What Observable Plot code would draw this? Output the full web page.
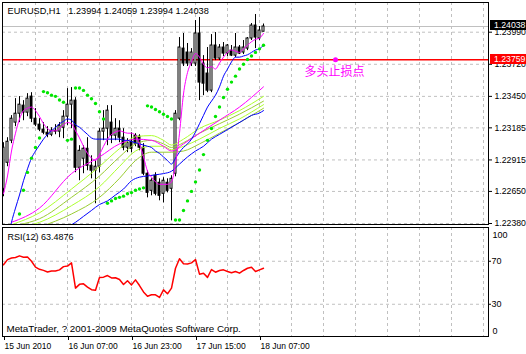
<!DOCTYPE html>
<html><head><meta charset="utf-8">
<script src="https://cdn.jsdelivr.net/npm/d3@7"></script>
<script src="https://cdn.jsdelivr.net/npm/@observablehq/plot@0.6"></script>
<style>
html,body{margin:0;padding:0;background:#fff;}
#wrap{position:relative;width:526px;height:354px;overflow:hidden;background:#fff;}
#wrap svg{position:absolute;left:0;overflow:visible;}
.plabel{position:absolute;left:490px;width:36px;height:10px;color:#fff;font:8.7px "Liberation Sans",Arial,sans-serif;line-height:10px;padding-left:4px;box-sizing:border-box;white-space:pre;overflow:hidden;}
</style></head><body><div id="wrap"></div>
<script>
// ---- data (H1 bars, index 0 = 15 Jun 2010 15:00) ----
const open = [1.22672,1.22891,1.23077,1.23229,1.23304,1.23372,1.23313,1.23448,1.23262,1.23212,
1.23170,1.23144,1.23127,1.23161,1.23153,1.23186,1.23279,1.23380,1.23414,1.22849,
1.22925,1.23009,1.22866,1.22824,1.22858,1.23153,1.23178,1.23229,1.23119,1.23178,
1.23102,1.23018,1.23068,1.23119,1.23111,1.23018,1.22799,1.22655,1.22782,1.22723,
1.22630,1.22723,1.22672,1.22799,1.23262,1.23852,1.23819,1.23726,1.23726,1.23979,
1.23726,1.23642,1.23498,1.23878,1.23768,1.23861,1.23810,1.23835,1.23793,1.23861,
1.23819,1.23852,1.23937,1.24046,1.23937,1.23994];
const high = [1.23060,1.23102,1.23288,1.23431,1.23448,1.23414,1.23473,1.23481,1.23347,1.23262,
1.23229,1.23195,1.23186,1.23212,1.23229,1.23330,1.23515,1.23524,1.23439,1.23035,
1.23035,1.23102,1.22950,1.22908,1.23178,1.23330,1.23372,1.23372,1.23262,1.23245,
1.23178,1.23094,1.23144,1.23136,1.23127,1.23052,1.22824,1.22756,1.22807,1.22756,
1.22765,1.22756,1.22782,1.23330,1.23945,1.23979,1.23895,1.23852,1.24088,1.24114,
1.23793,1.23861,1.23970,1.23987,1.23886,1.23903,1.23886,1.23878,1.23979,1.23878,
1.23920,1.23945,1.24063,1.24139,1.24038,1.24059];
const low = [1.22605,1.22858,1.23052,1.23195,1.23229,1.23245,1.23279,1.23229,1.23195,1.23153,
1.23127,1.23102,1.23111,1.23127,1.23102,1.23094,1.23203,1.23178,1.22807,1.22740,
1.22799,1.22824,1.22756,1.22546,1.22807,1.23077,1.23035,1.23052,1.23077,1.23060,
1.22992,1.22976,1.22976,1.23026,1.22992,1.22782,1.22596,1.22613,1.22613,1.22571,
1.22554,1.22638,1.22402,1.22773,1.23245,1.23701,1.23701,1.23701,1.23701,1.23414,
1.23456,1.23481,1.23481,1.23751,1.23751,1.23785,1.23785,1.23785,1.23776,1.23802,
1.23802,1.23835,1.23920,1.23852,1.23920,1.23994];
const close = [1.23018,1.23068,1.23262,1.23304,1.23380,1.23313,1.23431,1.23262,1.23212,1.23170,
1.23144,1.23127,1.23161,1.23153,1.23203,1.23279,1.23380,1.23414,1.22849,1.22992,
1.23009,1.22866,1.22824,1.22858,1.23153,1.23178,1.23330,1.23119,1.23178,1.23102,
1.23018,1.23060,1.23009,1.23052,1.23018,1.22799,1.22638,1.22740,1.22630,1.22613,
1.22740,1.22655,1.22756,1.23304,1.23861,1.23726,1.23726,1.23819,1.23979,1.23566,
1.23557,1.23498,1.23878,1.23768,1.23861,1.23810,1.23878,1.23793,1.23861,1.23810,
1.23861,1.23937,1.24046,1.23945,1.24004,1.24038];

const maFast = [1.2263,1.2278,1.2299,1.2314,1.2326,1.2333,1.2335,1.2336,1.2333,1.2328,
1.2322,1.2318,1.2316,1.2316,1.2318,1.2321,1.2323,1.2322,1.2316,1.2310,
1.2303,1.2297,1.2293,1.2291,1.2296,1.2303,1.2309,1.2313,1.2315,1.2316,
1.2315,1.2314,1.2314,1.2312,1.2305,1.2294,1.2282,1.2277,1.2273,1.2271,
1.2271,1.2271,1.2273,1.2288,1.2314,1.2347,1.2365,1.2374,1.2381,1.2378,
1.2372,1.2369,1.2370,1.2368,1.2373,1.2378,1.2382,1.2384,1.2383,1.2382,
1.2385,1.2388,1.2391,1.2393,1.2394,1.2398];
const maBlue = [null,1.2223,1.2239,1.2251,1.2262,1.2274,1.2284,1.2293,1.2299,1.2304,
1.2309,1.2313,1.2316,1.2319,1.2322,1.2324,1.2326,1.2325,1.2321,1.2319,
1.2316,1.2313,1.2310,1.2309,1.2309,1.2309,1.2309,1.2309,1.2309,1.2309,
1.2308,1.2308,1.2307,1.2306,1.2305,1.2304,1.2303,1.2302,1.2299,1.2297,
1.2294,1.2291,1.2288,1.2293,1.2298,1.2302,1.2305,1.2309,1.2315,1.2322,
1.2329,1.2336,1.2341,1.2346,1.2353,1.2362,1.2368,1.2374,1.2378,1.2378,
1.2379,1.2380,1.2382,1.2384,1.2385,1.2388];
const blueSlowIdx = [16,18,20,22,24,26,28,30,32,34,36,38,40,42,44,46,48,50,52,54,56,58,60,62,64,65];
const blueSlow = [1.2235,1.2239,1.2244,1.2249,1.2254,1.2257,1.2262,1.2267,1.2274,1.2277,1.2278,1.2279,1.2280,1.2282,1.2288,1.2294,1.2299,1.2303,1.2309,1.2313,1.2317,1.2321,1.2325,1.2329,1.2331,1.2333];
const slowIdx = [2,9,17,24,29,33,37,40,42,45,49,54,59,65];
const maSlowMagenta = [1.2239,1.2251,1.2280,1.2294,1.2305,1.2309,1.2308,1.2303,1.2299,1.2305,1.2314,1.2325,1.2336,1.2353];
const g1Idx = [2,9,17,24,29,33,37,40,42,45,49,54,59,65];
const maG1 = [1.2237,1.2247,1.2267,1.2286,1.2301,1.2311,1.2312,1.2308,1.2304,1.2309,1.2318,1.2325,1.2333,1.2345];
const g2Idx = [4,9,17,24,29,33,37,40,42,45,49,54,59,65];
const maG2 = [1.2237,1.2242,1.2260,1.2278,1.2294,1.2305,1.2308,1.2305,1.2302,1.2306,1.2314,1.2322,1.2330,1.2341];
const g3Idx = [6,9,17,24,29,33,37,40,42,45,49,54,59,65];
const maG3 = [1.2236,1.2239,1.2253,1.2269,1.2286,1.2299,1.2303,1.2303,1.2300,1.2303,1.2309,1.2318,1.2326,1.2338];
const g4Idx = [9,17,24,29,33,37,40,42,45,49,54,59,65];
const maG4 = [1.2235,1.2246,1.2260,1.2276,1.2291,1.2298,1.2298,1.2298,1.2299,1.2305,1.2314,1.2323,1.2335];

const sar = [null,null,null,null,1.2246,1.2266,1.2281,1.2293,1.2302,1.2310,
1.2349,1.2348,1.2346,1.2345,1.2342,1.2340,1.2308,1.2309,1.2352,1.2352,
1.2350,1.2346,1.2343,1.2339,1.2332,1.2326,1.2255,1.2257,1.2259,1.2260,
1.2261,1.2263,1.2264,1.2266,1.2267,1.2268,1.2337,1.2336,1.2334,1.2332,
1.2330,1.2328,1.2326,1.2241,1.2241,1.2249,1.2257,1.2265,1.2273,1.2283,
1.2296,1.2308,1.2318,1.2328,1.2336,1.2344,1.2351,1.2357,1.2362,1.2368,
1.2372,1.2376,1.2379,1.2382,1.2385,1.2388];

const rsi = [66.7,71.5,73,73.5,75,73.8,74,70,64.5,62.5,
61.5,60,61,61,62,65,65.5,68.5,45,48.5,
49,46,43.5,43,54.9,55.2,56.7,54.5,54.6,53,
48.4,51.8,48,52.7,47.4,41.5,37.5,38.8,38.8,36.3,
43.4,39.7,45,63.5,72.3,67.6,67.5,68.5,71.6,58,
58.9,55,62.3,59.8,61.4,62,60.5,59.3,60.5,58.9,
61.4,63.5,64.5,60.5,62,63.49];

const priceTicks = [1.23990,1.23720,1.23450,1.23185,1.22915,1.22650,1.22380];
const rsiLevels = [30,70];
const gridBars = [8,16,24,32,40,48,56,64,72,80,88,96,104,112,120];
const timeTicks = [0,16,32,48,64];
const timeLabels = ["15 Jun 2010","16 Jun 07:00","16 Jun 23:00","17 Jun 15:00","18 Jun 07:00"];
const lastPrice = 1.24038;
const stopPrice = 1.23759;
const stopIdx = 83;
const stopText = "多头止损点";
const titleText = "EURUSD,H1   1.23994 1.24059 1.23994 1.24038";
const rsiText = "RSI(12) 63.4876";
const captionText = "MetaTrader, ? 2001-2009 MetaQuotes Software Corp.";

// ---- build ----
const bars = open.map((o,i)=>({i,o,h:high[i],l:low[i],c:close[i]}));
const series = (idx, vals) => vals.map((v,k)=>({i: idx ? idx[k] : k, v})).filter(d=>d.v!=null);
const FONT = '"Liberation Sans", Arial, sans-serif';
const dashed = {stroke:"#c0c0c0", strokeOpacity:1, strokeDasharray:"3,3"};
const xScale = {type:"linear", domain:[0,65], range:[3,263], axis:null, label:null};
const lineOpt = (stroke) => ({x:"i", y:"v", stroke, strokeWidth:1, clip:true, curve:"monotone-x"});

const main = Plot.plot({
  width:526, height:226,
  marginTop:2, marginBottom:2, marginLeft:2, marginRight:38,
  x: xScale,
  y: {type:"linear", domain:[1.2238,1.2399], range:[223,31.7], label:null},
  style:{fontFamily:FONT, fontSize:"9px", color:"#000", background:"transparent", whiteSpace:"pre"},
  marks:[
    Plot.gridY(priceTicks, dashed),
    Plot.gridX(gridBars, dashed),
    Plot.ruleY([lastPrice], {stroke:"#c0c0c0"}),
    Plot.ruleY([stopPrice], {stroke:"#ff0000", strokeWidth:1.5}),
    Plot.ruleX(bars, {x:"i", y1:"l", y2:"h", stroke:"#000", clip:true}),
    Plot.rect(bars.filter(d=>d.c>=d.o), {x1:d=>d.i-0.25, x2:d=>d.i+0.25, y1:"o", y2:"c", fill:"#fff", stroke:"#000", clip:true}),
    Plot.rect(bars.filter(d=>d.c<d.o), {x1:d=>d.i-0.25, x2:d=>d.i+0.25, y1:"o", y2:"c", fill:"#000", stroke:"#000", clip:true}),
    Plot.line(series(g4Idx, maG4), lineOpt("#9acd32")),
    Plot.line(series(g3Idx, maG3), lineOpt("#adff2f")),
    Plot.line(series(g2Idx, maG2), lineOpt("#9acd32")),
    Plot.line(series(g1Idx, maG1), lineOpt("#adff2f")),
    Plot.line(series(slowIdx, maSlowMagenta), lineOpt("#ff00ff")),
    Plot.line(series(blueSlowIdx, blueSlow), lineOpt("#0000ff")),
    Plot.line(series(null, maBlue), lineOpt("#0000ff")),
    Plot.line(series(null, maFast), lineOpt("#ff00ff")),
    Plot.dot(series(null, sar), {x:"i", y:"v", r:1.7, fill:"#00e600", stroke:"none", clip:true}),
    Plot.dot([{i:stopIdx, v:stopPrice}], {x:"i", y:"v", r:2.5, fill:"#ff00ff", stroke:"none"}),
    Plot.text([{i:stopIdx, v:stopPrice, t:stopText}], {x:"i", y:"v", text:"t", dy:13, dx:-1, fill:"#ff00ff", fontSize:12, fontFamily:'"Noto Sans CJK SC", sans-serif'}),
    Plot.text([titleText], {frameAnchor:"top-left", dx:5, dy:8.5, lineAnchor:"middle", textAnchor:"start", fill:"#000", fontSize:9.2}),
    Plot.axisY(priceTicks, {anchor:"right", label:null, tickFormat:d3.format(".5f"), tickSize:3, tickPadding:3, fontVariant:"normal", fontSize:8.7}),
    Plot.frame({stroke:"#000"})
  ]
});

const rsiPlot = Plot.plot({
  width:526, height:128,
  marginTop:1, marginBottom:18, marginLeft:2, marginRight:38,
  x: xScale,
  y: {type:"linear", domain:[0,100], range:[110,2.5], label:null},
  style:{fontFamily:FONT, fontSize:"9px", color:"#000", background:"transparent", whiteSpace:"pre"},
  marks:[
    Plot.gridY(rsiLevels, dashed),
    Plot.gridX(gridBars, dashed),
    Plot.line(series(null, rsi), {x:"i", y:"v", stroke:"#ff0000", strokeWidth:1.5}),
    Plot.text([rsiText], {frameAnchor:"top-left", dx:5, dy:10, lineAnchor:"middle", textAnchor:"start", fill:"#000"}),
    Plot.text([captionText], {frameAnchor:"bottom-left", dx:4, dy:-8, lineAnchor:"middle", textAnchor:"start", fill:"#000", fontSize:9.8}),
    Plot.axisY(rsiLevels, {anchor:"right", label:null, tickSize:2, tickPadding:1, fontVariant:"normal"}),
    Plot.axisY([100], {anchor:"right", label:null, tickSize:0, tickPadding:4, dy:6.5, fontVariant:"normal"}),
    Plot.axisY([0], {anchor:"right", label:null, tickSize:0, tickPadding:4, dy:-5, fontVariant:"normal"}),
    Plot.axisX(timeTicks, {anchor:"bottom", label:null, tickSize:4, tickPadding:2, textAnchor:"start", dx:1, fontVariant:"normal", fontSize:8.5,
      tickFormat: d => timeLabels[timeTicks.indexOf(d)]}),
    Plot.frame({stroke:"#000"})
  ]
});

const wrap = document.getElementById("wrap");
main.style.top = "0px";
rsiPlot.style.top = "226px";
wrap.appendChild(main);
wrap.appendChild(rsiPlot);

// price label boxes positioned through the plot's own y scale
const ys = main.scale("y");
const yPix = v => (typeof ys.apply === "function") ? ys.apply(v) : d3.scaleLinear(ys.domain, ys.range)(v);
[[lastPrice,"#000"],[stopPrice,"#ff0000"]].forEach(([p,bg])=>{
  const d = document.createElement("div");
  d.className = "plabel";
  d.style.background = bg;
  d.style.top = (yPix(p) - 5.5) + "px";
  d.textContent = d3.format(".5f")(p);
  wrap.appendChild(d);
});
</script></body></html>
